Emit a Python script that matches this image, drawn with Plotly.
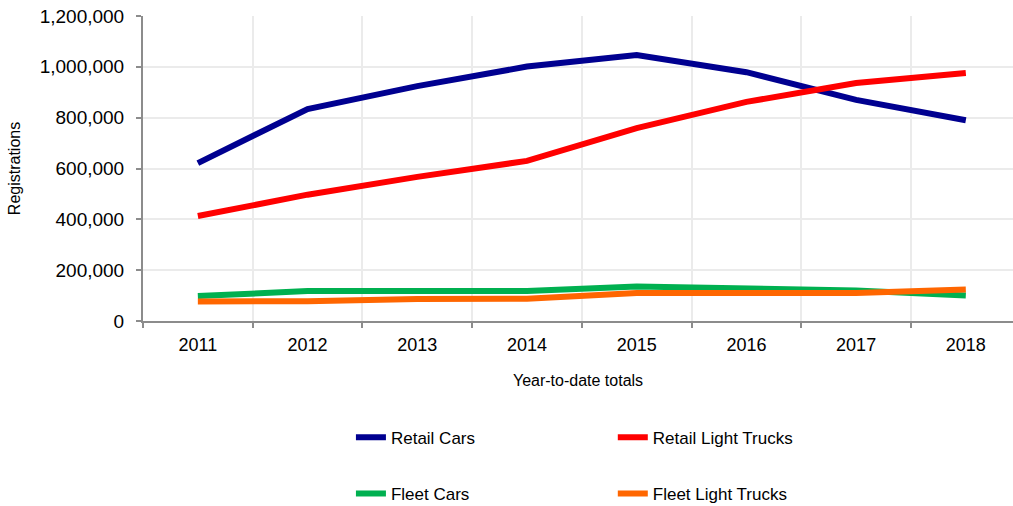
import plotly.graph_objects as go

years = ["2011", "2012", "2013", "2014", "2015", "2016", "2017", "2018"]
retail_cars = [621000, 834000, 924000, 1001000, 1046000, 979000, 870000, 790000]
retail_light_trucks = [413000, 497000, 567000, 630000, 759000, 862000, 936000, 976000]
fleet_cars = [98000, 118000, 118000, 118000, 136000, 130000, 120000, 100000]
fleet_light_trucks = [77000, 78000, 87000, 88000, 110000, 110000, 110000, 124000]

series = [
    ("Retail Cars", retail_cars, "#000090", "legend", 0.239, -0.383),
    ("Retail Light Trucks", retail_light_trucks, "#FF0000", "legend2", 0.540, -0.383),
    ("Fleet Cars", fleet_cars, "#00B050", "legend3", 0.239, -0.567),
    ("Fleet Light Trucks", fleet_light_trucks, "#FF6600", "legend4", 0.540, -0.567),
]

FONT = "Liberation Sans, Arial, sans-serif"

fig = go.Figure()
layout_legends = {}
for name, vals, color, leg, lx, ly in series:
    fig.add_trace(go.Scatter(
        x=years, y=vals, name=name, mode="lines",
        line=dict(color=color, width=6),
        legend=leg,
    ))
    layout_legends[leg] = dict(
        x=lx, y=ly, xanchor="left", yanchor="middle",
        font=dict(family=FONT, size=17, color="#000000"),
        bgcolor="rgba(0,0,0,0)", borderwidth=0,
    )

fig.update_layout(
    width=1013, height=506,
    margin=dict(l=143, r=0, t=16, b=185, autoexpand=False),
    paper_bgcolor="white", plot_bgcolor="white",
    font=dict(family=FONT, size=18, color="#000000"),
    showlegend=True,
    **layout_legends,
)

fig.update_xaxes(
    type="category",
    range=[-0.5, 7.43],
    tickson="boundaries",
    automargin=False,
    showgrid=True, gridcolor="#ebebeb", gridwidth=2,
    showline=True, linecolor="#8c8c8c", linewidth=2,
    ticks="outside", ticklen=5, tickcolor="#8c8c8c", tickwidth=2,
    tickfont=dict(family=FONT, size=18),
    ticklabelstandoff=6,
    title=dict(text="Year-to-date totals", font=dict(family=FONT, size=16), standoff=21),
    zeroline=False,
)
fig.update_yaxes(
    range=[0, 1200000], dtick=200000, tickformat=",",
    automargin=False,
    showgrid=True, gridcolor="#ebebeb", gridwidth=2,
    showline=True, linecolor="#8c8c8c", linewidth=2,
    ticks="outside", ticklen=5, tickcolor="#8c8c8c", tickwidth=2,
    tickfont=dict(family=FONT, size=19),
    ticklabelstandoff=8,
    title=dict(text="Registrations", font=dict(family=FONT, size=16), standoff=15),
    zeroline=False,
)

fig.write_html(
    "out.html",
    config={"displayModeBar": False},
    post_script="document.body.style.margin='0';document.body.style.overflow='hidden';",
)
